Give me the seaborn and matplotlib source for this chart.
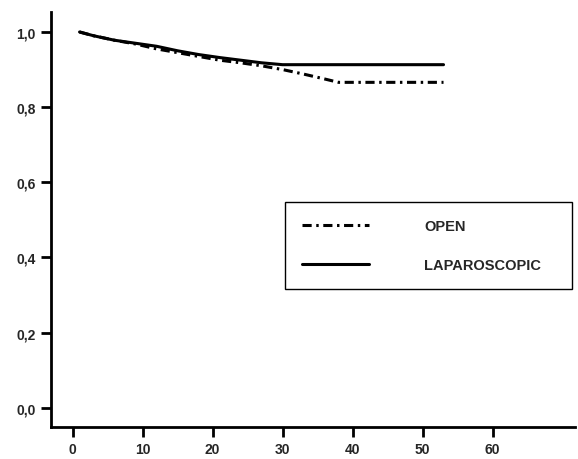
import matplotlib
matplotlib.use("Agg")
import matplotlib.pyplot as plt
import seaborn as sns
import pandas as pd

# dados (curvas de sobrevida)
tempo_lap = [1, 3, 6, 9, 12, 15, 18, 21, 24, 27, 30, 53]
surv_lap = [1.0, 0.99, 0.978, 0.970, 0.962, 0.950, 0.940, 0.932, 0.925, 0.918, 0.913, 0.913]
tempo_open = [1, 3, 6, 9, 12, 15, 18, 21, 24, 27, 30, 33, 36, 38, 53]
surv_open = [1.0, 0.99, 0.978, 0.968, 0.955, 0.945, 0.935, 0.925, 0.918, 0.910, 0.900, 0.888, 0.875, 0.866, 0.866]

x_ticks = [0, 10, 20, 30, 40, 50, 60]
y_ticks = [0.0, 0.2, 0.4, 0.6, 0.8, 1.0]
y_labels = ["0,0", "0,2", "0,4", "0,6", "0,8", "1,0"]

sns.set_style("ticks")
plt.rcParams["font.family"] = ["Liberation Sans", "DejaVu Sans"]
plt.rcParams["font.weight"] = "bold"

df_open = pd.DataFrame({"tempo": tempo_open, "surv": surv_open})
df_lap = pd.DataFrame({"tempo": tempo_lap, "surv": surv_lap})

fig = plt.figure(figsize=(5.78, 4.60), dpi=100)
ax = fig.add_axes([0.088, 0.0696, 0.907, 0.902])

sns.lineplot(data=df_open, x="tempo", y="surv", ax=ax, color="black", lw=2.2,
             linestyle=(0, (3, 1.5, 0.8, 1.5)), label="OPEN")
sns.lineplot(data=df_lap, x="tempo", y="surv", ax=ax, color="black", lw=2.2,
             label="LAPAROSCOPIC")

ax.set_xlim(-3.1, 71.8)
ax.set_ylim(-0.051, 1.053)
ax.set_xticks(x_ticks)
ax.set_yticks(y_ticks)
ax.set_yticklabels(y_labels)
ax.set_xlabel("")
ax.set_ylabel("")
ax.tick_params(axis="both", length=7.5, width=2, labelsize=10, color="black")
for s in ["left", "bottom"]:
    ax.spines[s].set_linewidth(2)
    ax.spines[s].set_color("black")
sns.despine(ax=ax)

# legenda com caixa retangular no meio a direita
leg = ax.legend(loc="upper left", bbox_to_anchor=(0.447, 0.542, 0.548, 0.0), mode="expand",
                frameon=True, fancybox=False, edgecolor="black", framealpha=1,
                fontsize=10.5, handlelength=4.6, handletextpad=3.8, labelspacing=1.75,
                borderpad=1.15, borderaxespad=0)
leg.get_frame().set_linewidth(1)

plt.savefig("out.png", dpi=100)
